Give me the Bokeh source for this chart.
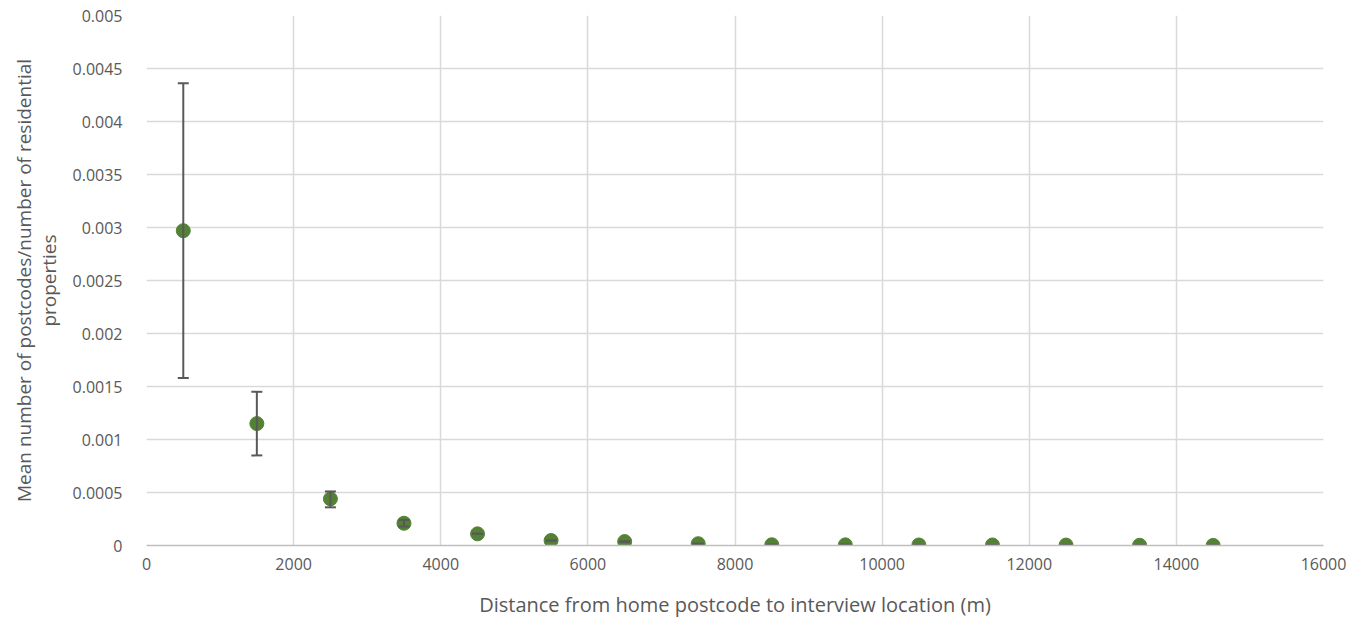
from bokeh.plotting import figure
from bokeh.models import ColumnDataSource, Whisker, TeeHead, FixedTicker, Range1d
from bokeh.embed import file_html
from bokeh.resources import INLINE

distance = [500, 1500, 2500, 3500, 4500, 5500, 6500, 7500, 8500, 9500, 10500, 11500, 12500, 13500, 14500]
mean_ratio = [0.00297, 0.00115, 0.00044, 0.00021, 0.00011, 0.000047, 0.000037, 0.000017, 0.000007,
              0.000006, 0.000005, 0.000005, 0.000004, 0.000002, 0.000001]
upper = [0.00436, 0.00145, 0.00051, 0.00024, 0.00011, 0.000047, 0.000037, 0.000017, 0.000007,
         0.000006, 0.000005, 0.000005, 0.000004, 0.000002, 0.000001]
lower = [0.00158, 0.00085, 0.00036, 0.00018, 0.00011, 0.000047, 0.000037, 0.000017, 0.000007,
         0.000006, 0.000005, 0.000005, 0.000004, 0.000002, 0.000001]

x_ticks = [0, 2000, 4000, 6000, 8000, 10000, 12000, 14000, 16000]
y_ticks = [0, 0.0005, 0.001, 0.0015, 0.002, 0.0025, 0.003, 0.0035, 0.004, 0.0045, 0.005]
y_tick_labels = ["0", "0.0005", "0.001", "0.0015", "0.002", "0.0025", "0.003", "0.0035", "0.004", "0.0045", "0.005"]

src = ColumnDataSource(dict(x=distance, y=mean_ratio, up=upper, lo=lower))

FONT = "Open Sans"
GRAY = "#595959"

p = figure(width=1363, height=620, output_backend="svg", toolbar_location=None,
           x_range=Range1d(0, 16000), y_range=Range1d(0, 0.005),
           min_border_left=146, min_border_right=40, min_border_top=15, min_border_bottom=74)
p.outline_line_color = None

for ax in (p.xaxis[0], p.yaxis[0]):
    ax.major_tick_line_color = None
    ax.minor_tick_line_color = None
    ax.major_label_text_font = FONT
    ax.major_label_text_color = GRAY
    ax.major_label_text_font_size = "16px"
    ax.axis_label_text_font = FONT
    ax.axis_label_text_color = GRAY
    ax.axis_label_text_font_style = "normal"

p.xaxis.axis_label_text_font_size = "20px"
p.yaxis.axis_label_text_font_size = "19px"
p.yaxis.axis_label_text_line_height = 0.95
p.xaxis.ticker = FixedTicker(ticks=x_ticks)
p.yaxis.ticker = FixedTicker(ticks=y_ticks)
p.yaxis.major_label_overrides = {t: l for t, l in zip(y_ticks, y_tick_labels)}
p.xaxis.axis_line_color = "#bfbfbf"
p.xaxis.axis_line_width = 1.5
p.yaxis.axis_line_color = None
p.xaxis.major_label_standoff = 6
p.yaxis.major_label_standoff = 18
p.xaxis.axis_label = "Distance from home postcode to interview location (m)"
p.yaxis.axis_label = "Mean number of postcodes/number of residential\nproperties"
p.xaxis.axis_label_standoff = 18
p.yaxis.axis_label_standoff = 8

p.xgrid.ticker = FixedTicker(ticks=x_ticks)
p.ygrid.ticker = FixedTicker(ticks=y_ticks)
p.grid.grid_line_color = "#d9d9d9"
p.grid.grid_line_width = 1.5

w = Whisker(source=src, base="x", upper="up", lower="lo", line_color=GRAY, line_width=2,
            upper_head=TeeHead(size=11, line_color=GRAY, line_width=2),
            lower_head=TeeHead(size=11, line_color=GRAY, line_width=2))
w.level = "glyph"
p.add_layout(w)

p.scatter("x", "y", source=src, size=14, fill_color="#548235", line_color="#548235")

open("out.html", "w").write(file_html(p, INLINE))
